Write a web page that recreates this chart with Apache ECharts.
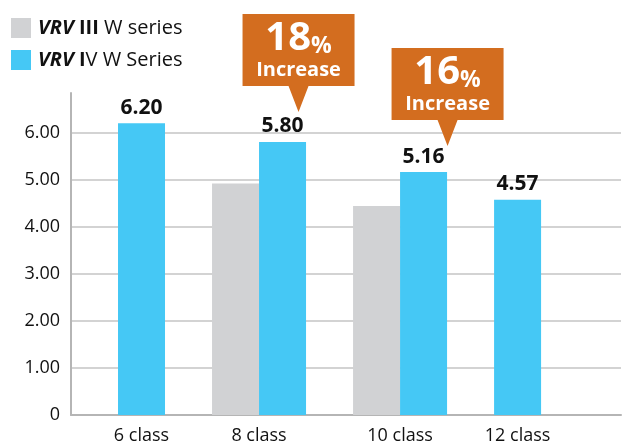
<!DOCTYPE html>
<html>
<head>
<meta charset="utf-8">
<script src="https://cdn.jsdelivr.net/npm/echarts@6/dist/echarts.min.js"></script>
<style>
  html, body { margin: 0; padding: 0; background: #fff; }
  #chart { width: 624px; height: 445px; }
</style>
</head>
<body>
<div id="chart"></div>
<script>
// Capacity index per class (higher is better)
const categories = ['6 class', '8 class', '10 class', '12 class'];
const seriesNames = ['VRV III W series', 'VRV IV W Series'];
const valuesIII = [null, 4.92, 4.44, null];
const valuesIV = [6.20, 5.80, 5.16, 4.57];
const yTickLabels = ['0', '1.00', '2.00', '3.00', '4.00', '5.00', '6.00'];

// Lay bars out in slots: each group takes one slot per bar present,
// with one empty slot before each group and after the last one.
const SLOT_GAP = 1;
const groupCenters = [];
const pointsIII = [];
const pointsIV = [];
const callouts = [];
let cursor = SLOT_GAP;
categories.forEach((cat, i) => {
  const start = cursor;
  if (valuesIII[i] != null) {
    pointsIII.push([cursor + 0.5, valuesIII[i]]);
    cursor += 1;
  }
  pointsIV.push([cursor + 0.5, valuesIV[i]]);
  if (valuesIII[i] != null) {
    callouts.push({
      coord: [cursor + 0.5, valuesIV[i]],
      pct: Math.round((valuesIV[i] / valuesIII[i] - 1) * 100)
    });
  }
  cursor += 1;
  groupCenters.push((start + cursor) / 2);
  cursor += SLOT_GAP;
});
const xMax = cursor + 0.7;
const yMax = 6.84;

// pixel shift of each callout's pointer tip from the bar top it refers to
const calloutShift = [[16, -30], [24, -26]];

const FONT = '"Open Sans", "Noto Sans", sans-serif';
const INK = '#111';

const chart = echarts.init(document.getElementById('chart'), null, { renderer: 'canvas' });
chart.setOption({
  animation: false,
  backgroundColor: '#fff',
  textStyle: { fontFamily: FONT },
  legend: {
    orient: 'vertical',
    left: 6,
    top: 13,
    itemWidth: 20,
    itemHeight: 20,
    itemGap: 12,
    icon: 'rect',
    selectedMode: false,
    data: seriesNames,
    formatter: name => {
      const [brand, gen, ...rest] = name.split(' ');
      const genRich = gen.replace(/I+/, m => `{bd|${m}}`);
      return `{em|${brand}} ${genRich} ${rest.join(' ')}`;
    },
    textStyle: {
      fontFamily: FONT,
      fontSize: 20,
      color: INK,
      padding: [0, 0, 0, 2],
      rich: {
        em: { fontFamily: FONT, fontSize: 20, fontStyle: 'italic', fontWeight: 'bold', color: INK },
        bd: { fontFamily: FONT, fontSize: 20, fontWeight: 'bold', color: INK }
      }
    }
  },
  grid: { left: 71, right: 0, top: 93, bottom: 28.5, containLabel: false },
  xAxis: {
    type: 'value',
    min: 0,
    max: xMax,
    interval: 0.5,
    axisLine: { show: true, lineStyle: { color: '#b5b5b5', width: 2 } },
    axisTick: { show: false },
    splitLine: { show: false },
    axisLabel: {
      fontFamily: FONT,
      fontSize: 18,
      color: INK,
      margin: 12,
      showMinLabel: true,
      showMaxLabel: true,
      formatter: v => {
        const k = groupCenters.findIndex(c => Math.abs(c - v) < 1e-6);
        return k >= 0 ? categories[k] : '';
      }
    }
  },
  yAxis: {
    type: 'value',
    min: 0,
    max: yMax,
    interval: 1,
    axisLine: { show: true, lineStyle: { color: '#b5b5b5', width: 2 } },
    axisTick: { show: false },
    splitLine: {
      show: true,
      showMaxLine: false,
      lineStyle: { color: '#c4c4c4', width: 1.5 }
    },
    axisLabel: {
      fontFamily: FONT,
      fontSize: 18,
      color: INK,
      margin: 11,
      formatter: v => {
        const k = Math.round(v);
        return Math.abs(v - k) < 1e-6 && k < yTickLabels.length ? yTickLabels[k] : '';
      }
    }
  },
  series: [
    {
      name: seriesNames[0],
      type: 'bar',
      data: pointsIII,
      barWidth: 47,
      barGap: '-100%',
      itemStyle: { color: '#d1d2d4' }
    },
    {
      name: seriesNames[1],
      type: 'bar',
      data: pointsIV,
      barWidth: 47,
      barGap: '-100%',
      itemStyle: { color: '#45c8f5' },
      label: {
        show: true,
        position: 'top',
        distance: 5,
        fontFamily: FONT,
        fontSize: 21,
        fontWeight: 'bold',
        color: INK,
        formatter: p => p.value[1].toFixed(2)
      },
      markPoint: {
        silent: true,
        symbol: 'path://M0,0H112V72H66L56,98L46,72H0Z',
        symbolSize: [112, 98],
        symbolKeepAspect: false,
        itemStyle: { color: '#d36d1f' },
        label: {
          show: true,
          position: 'inside',
          offset: [0, -12],
          formatter: p => `{n|${p.value}}{p|%}\n{i|Increase}`,
          rich: {
            n: { fontFamily: FONT, fontSize: 40, fontWeight: 'bold', color: '#fff', lineHeight: 38 },
            p: { fontFamily: FONT, fontSize: 23, fontWeight: 'bold', color: '#fff', verticalAlign: 'bottom', lineHeight: 34 },
            i: { fontFamily: FONT, fontSize: 20, fontWeight: 'bold', color: '#fff', lineHeight: 24 }
          }
        },
        data: callouts.map((c, k) => ({
          coord: c.coord,
          value: c.pct,
          symbolOffset: [calloutShift[k][0], calloutShift[k][1] - 49]
        }))
      }
    }
  ]
});
</script>
</body>
</html>
